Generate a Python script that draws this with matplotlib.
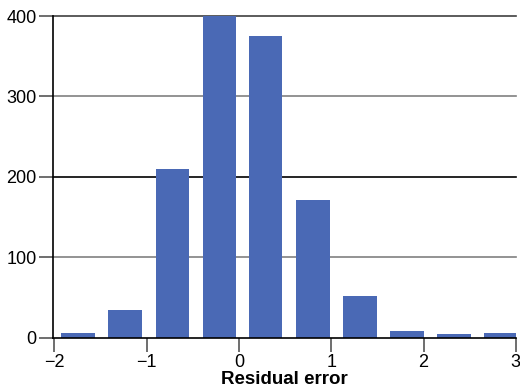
import matplotlib
matplotlib.use("Agg")
import matplotlib.pyplot as plt

plt.rcParams['font.family'] = ['Liberation Sans', 'DejaVu Sans']

bar_centers = [-1.74, -1.23, -0.72, -0.21, 0.29, 0.80, 1.31, 1.82, 2.33, 2.84]
counts = [6, 35, 210, 400, 375, 171, 52, 8, 5, 6]
bar_width = 0.365
xticks = [-2, -1, 0, 1, 2, 3]
xticklabels = ['\u22122', '\u22121', '0', '1', '2', '3']
yticks = [0, 100, 200, 300, 400]
grid_colors = {100: '#808080', 200: 'black', 300: '#808080', 400: '#404040'}

fig = plt.figure(figsize=(5.2, 3.92), dpi=100)
ax = fig.add_axes([0.1025, 0.1385, 0.8895, 0.8205])

for y, c in grid_colors.items():
    ax.axhline(y, color=c, lw=1.2, zorder=0, clip_on=False)

ax.bar(bar_centers, counts, width=bar_width, color='#4a69b5', zorder=2)

ax.set_xlim(-2.01, 3.0)
ax.set_ylim(0, 400)
ax.set_xticks(xticks)
ax.set_xticklabels(xticklabels)
ax.set_yticks(yticks)
for s in ['top', 'right']:
    ax.spines[s].set_visible(False)
for s in ['left', 'bottom']:
    ax.spines[s].set_linewidth(1.2)
    ax.spines[s].set_color('black')
ax.tick_params(axis='both', labelsize=13, length=10, width=1.2, pad=2)
ax.tick_params(axis='x', colors='#555555', labelcolor='black')
ax.tick_params(axis='y', colors='#555555', labelcolor='black')
ax.set_xlabel('Residual error', fontsize=13.5, fontweight='bold', labelpad=0)

fig.savefig('out.png', dpi=100)
